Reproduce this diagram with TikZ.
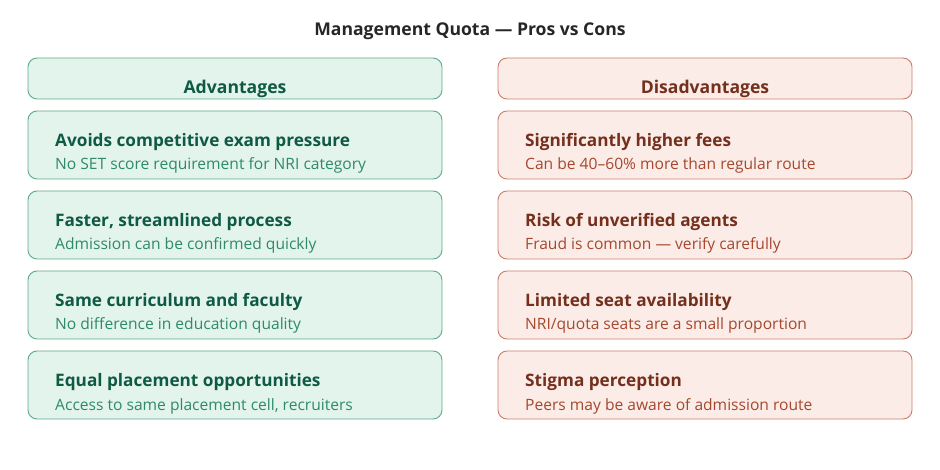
\documentclass[tikz,border=0pt]{standalone}
\usepackage{fontspec}
\setmainfont{Open Sans}
\definecolor{gfill}{HTML}{E2F4EC}
\definecolor{gline}{HTML}{5FAA8A}
\definecolor{gtitle}{HTML}{0F5A44}
\definecolor{gsub}{HTML}{2F8A68}
\definecolor{rfill}{HTML}{FBECE7}
\definecolor{rline}{HTML}{C8806A}
\definecolor{rtitle}{HTML}{74301C}
\definecolor{rsub}{HTML}{A5482E}
\tikzset{
  gbox/.style={draw=gline, fill=gfill, rounded corners=9pt, line width=0.9pt},
  rbox/.style={draw=rline, fill=rfill, rounded corners=9pt, line width=0.9pt},
  hdr/.style={font=\fontsize{17.6}{20}\selectfont\bfseries, anchor=base, inner sep=0pt},
  ttl/.style={font=\fontsize{17.2}{20}\selectfont\bfseries, anchor=base west, inner sep=0pt},
  sub/.style={font=\fontsize{15.6}{18}\selectfont, anchor=base west, inner sep=0pt},
}
\begin{document}
\begin{tikzpicture}[x=1pt,y=-1pt]
\useasboundingbox (0,0) rectangle (940,470);
\node[font=\fontsize{17.6}{20}\selectfont\bfseries, text=black!85, anchor=base, inner sep=0pt] (title) at (470,36) {Management Quota — Pros vs Cons};
% headers
\draw[gbox] (28,58) rectangle (442,99);
\node[hdr, text=gtitle] (hA) at (235,93.5) {Advantages};
\draw[rbox] (498,58) rectangle (912,99);
\node[hdr, text=rtitle] (hD) at (705,93.5) {Disadvantages};
% left items
\foreach \y/\t/\s [count=\i] in {111/{Avoids competitive exam pressure}/{No SET score requirement for NRI category},
  191/{Faster, streamlined process}/{Admission can be confirmed quickly},
  271/{Same curriculum and faculty}/{No difference in education quality},
  351/{Equal placement opportunities}/{Access to same placement cell, recruiters}} {
  \draw[gbox] (28,\y) rectangle (442,\y+68);
  \node[ttl, text=gtitle] (lt\i) at (55,\y+35.5) {\t};
  \node[sub, text=gsub] (ls\i) at (55,\y+59) {\s};
}
\foreach \y/\t/\s [count=\i] in {111/{Significantly higher fees}/{Can be 40–60\% more than regular route},
  191/{Risk of unverified agents}/{Fraud is common — verify carefully},
  271/{Limited seat availability}/{NRI/quota seats are a small proportion},
  351/{Stigma perception}/{Peers may be aware of admission route}} {
  \draw[rbox] (498,\y) rectangle (912,\y+68);
  \node[ttl, text=rtitle] (rt\i) at (525,\y+35.5) {\t};
  \node[sub, text=rsub] (rs\i) at (525,\y+59) {\s};
}
\end{tikzpicture}
\end{document}
